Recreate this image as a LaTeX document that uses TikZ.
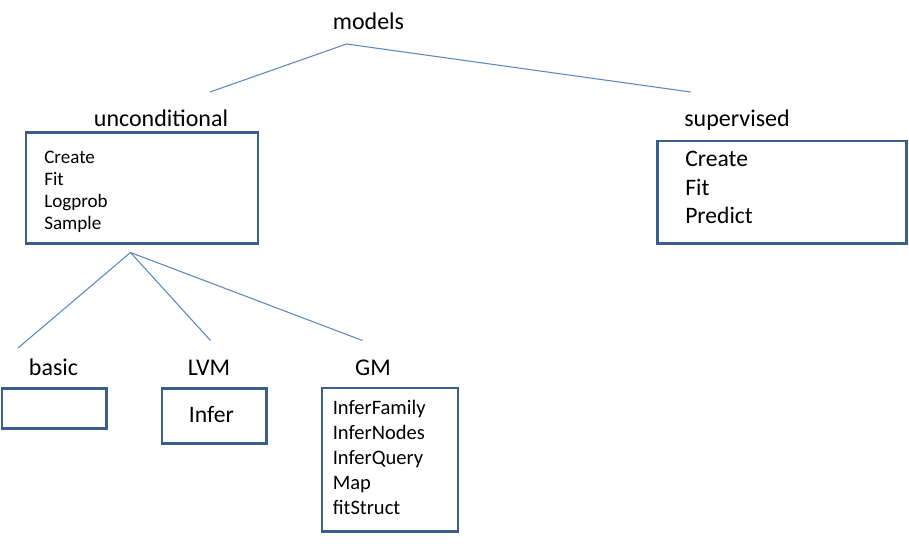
\documentclass[tikz,border=0pt]{standalone}
\usepackage{fontspec}
\setmainfont{Carlito}
\definecolor{boxcol}{HTML}{3B5E8C}
\definecolor{linecol}{HTML}{5A88C2}
\begin{document}
\begin{tikzpicture}[x=0.75pt,y=-0.75pt,
  box/.style={draw=boxcol,line width=1.9pt,rectangle,inner sep=0pt},
  link/.style={draw=linecol,line width=0.8pt},
  head/.style={anchor=base,inner sep=0pt,font=\fontsize{18}{20}\selectfont},
  itemS/.style={anchor=base west,inner sep=0pt,font=\fontsize{14.3}{16}\selectfont},
  itemM/.style={anchor=base west,inner sep=0pt,font=\fontsize{15.4}{17}\selectfont},
  itemL/.style={anchor=base west,inner sep=0pt,font=\fontsize{17.7}{20}\selectfont}]
\useasboundingbox (0,0) rectangle (909,557);
% headers
\node[head] (models) at (368.5,29) {models};
\node[head] (uncl) at (161,126) {unconditional};
\node[head] (supl) at (737,126) {supervised};
\node[head] (basicl) at (53.5,375) {basic};
\node[head] (lvml) at (209,375) {LVM};
\node[head] (gml) at (373,375) {GM};
% boxes
\node[box,minimum width=174pt,minimum height=83.25pt] (unc) at (142,188) {};
\node[box,minimum width=186.75pt,minimum height=76.9pt] (sup) at (782,192.25) {};
\node[box,minimum width=78.4pt,minimum height=30pt] (basic) at (54.25,408.5) {};
\node[box,minimum width=78.4pt,minimum height=41.25pt] (lvm) at (214.25,416) {};
\node[box,minimum width=102pt,minimum height=107.6pt] (gm) at (390,459.75) {};
% items
\node[itemS] (u1) at (44,163) {Create};
\node[itemS] (u2) at (44,185) {Fit};
\node[itemS] (u3) at (44,207) {Logprob};
\node[itemS] (u4) at (44,229) {Sample};
\node[itemL] (s1) at (685,166.7) {Create};
\node[itemL] (s2) at (685,195) {Fit};
\node[itemL] (s3) at (685,223.3) {Predict};
\node[itemL] (l1) at (188.7,422.7) {Infer};
\node[itemM] (g1) at (332.5,414.3) {InferFamily};
\node[itemM] (g2) at (332.5,439) {InferNodes};
\node[itemM] (g3) at (332.5,464) {InferQuery};
\node[itemM] (g4) at (332.5,489.5) {Map};
\node[itemM] (g5) at (332.5,514) {fitStruct};
% connector points
\coordinate (mapex) at (346.5,44);
\coordinate (mleft) at (210,92);
\coordinate (mright) at (690.7,92);
\coordinate (uapex) at (130.5,252.5);
\coordinate (ubasic) at (18,348);
\coordinate (ulvm) at (210.5,340.5);
\coordinate (ugm) at (362.5,340.5);
\draw[link] (mleft) -- (mapex) -- (mright);
\draw[link] (uapex) -- (ubasic);
\draw[link] (uapex) -- (ulvm);
\draw[link] (uapex) -- (ugm);
\end{tikzpicture}
\end{document}
